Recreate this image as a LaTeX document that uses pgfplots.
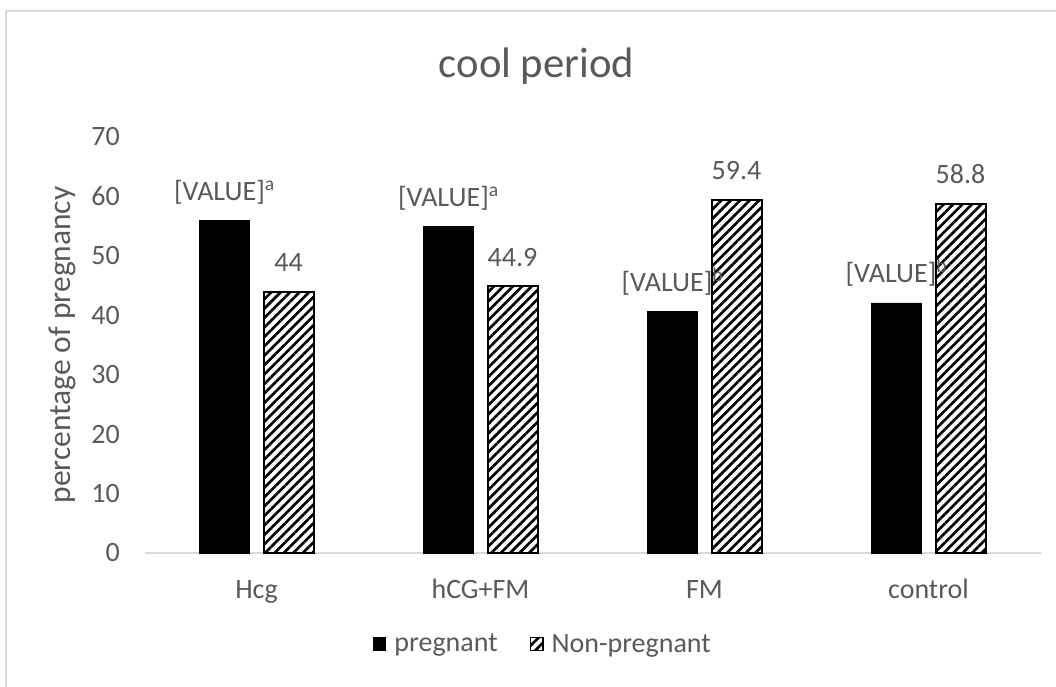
\documentclass[border=0pt]{standalone}
\usepackage{pgfplots}
\pgfplotsset{compat=1.18}
\usepackage{fontspec}
\setmainfont{Carlito}
\usetikzlibrary{patterns.meta}
\definecolor{txt}{HTML}{595959}
\definecolor{frame}{HTML}{D9D9D9}
\begin{document}
\begin{tikzpicture}
\useasboundingbox (0,0) rectangle (792pt,514.5pt);
\draw[frame, line width=1.2pt] (4.5pt,-20pt) -- (4.5pt,506.25pt) -- (820pt,506.25pt);
\begin{axis}[
  at={(108.375pt,99.75pt)}, anchor=south west,
  scale only axis, width=672pt, height=312pt,
  xmin=-0.5, xmax=3.5, ymin=0, ymax=70,
  ytick={0,10,...,70},
  xtick={0,1,2,3},
  xticklabels={Hcg, hCG+FM, FM, control},
  axis x line*=bottom, axis y line*=left,
  axis line style={-},
  x axis line style={draw=frame, line width=1.1pt},
  y axis line style={draw=none},
  major tick length=0pt,
  tick style={draw=none},
  /pgf/number format/assume math mode=true,
  ticklabel style={font=\fontsize{21}{25}\selectfont, text=txt},
  yticklabel style={anchor=east, inner sep=0pt, xshift=-18.4pt},
  xticklabel style={anchor=base, inner sep=0pt, yshift=-33.75pt},
  ylabel={percentage of pregnancy},
  ylabel style={at={(axis description cs:-0.0821,0.5)}, anchor=base, font=\fontsize{23.6}{28}\selectfont, text=txt},
  clip=false,
  ybar, bar width=37.5pt,
  point meta=explicit symbolic,
  nodes near coords style={anchor=base, yshift=15pt, font=\fontsize{21}{25}\selectfont, text=txt, inner sep=0pt},
  legend columns=2,
  legend style={draw=none, fill=none, at={(axis description cs:0.4448,-0.219)}, anchor=center,
    font=\fontsize{21}{25}\selectfont, text=txt,
    /tikz/every even column/.append style={column sep=22pt}},
  legend image code/.code={\draw[#1, line width=0.8pt] (0pt,-4.8pt) rectangle (9.6pt,4.8pt); \path[draw=none, fill=none] (0pt,0pt) -- (14pt,0pt);},
]
\addplot[fill=black, draw=black, bar shift=-24pt,
  nodes near coords={[VALUE]\textsuperscript{\pgfplotspointmeta}}]
  coordinates {(0,56) [a] (1,55) [a] (2,40.6) [b] (3,42.1) [b]};
\addplot[draw=black, line width=1.5pt, bar shift=24pt,
  pattern={Lines[angle=45, distance=5pt, line width=2pt]}, pattern color=black,
  nodes near coords={\pgfplotspointmeta}]
  coordinates {(0,44) [44] (1,44.9) [44.9] (2,59.4) [59.4] (3,58.8) [58.8]};
\legend{pregnant, Non-pregnant}
\node[anchor=base, font=\fontsize{32}{38}\selectfont, text=txt] at (axis description cs:0.4375,1.144) {cool period};
\end{axis}
\end{tikzpicture}
\end{document}
